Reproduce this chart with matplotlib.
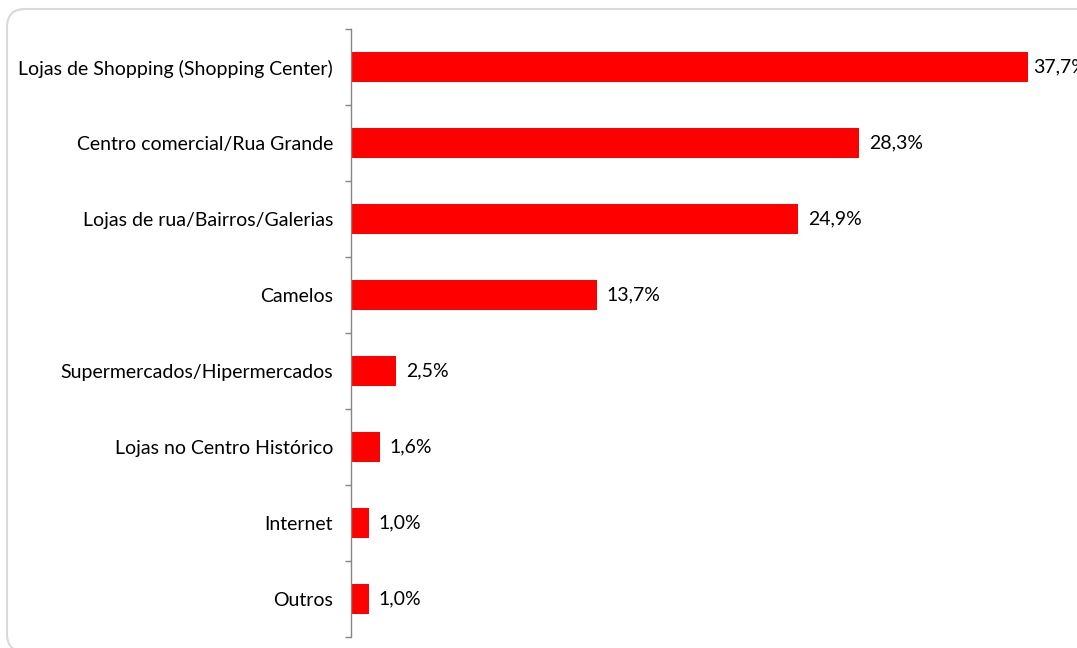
import matplotlib
matplotlib.use("Agg")
import matplotlib.pyplot as plt
from matplotlib.patches import FancyBboxPatch

categories = ["Lojas de Shopping (Shopping Center)", "Centro comercial/Rua Grande",
              "Lojas de rua/Bairros/Galerias", "Camelos", "Supermercados/Hipermercados",
              "Lojas no Centro Histórico", "Internet", "Outros"]
values = [37.7, 28.3, 24.9, 13.7, 2.5, 1.6, 1.0, 1.0]
labels = ["37,7%", "28,3%", "24,9%", "13,7%", "2,5%", "1,6%", "1,0%", "1,0%"]

plt.rcParams["font.family"] = ["Lato", "DejaVu Sans"]

W, H = 1077, 648
fig = plt.figure(figsize=(W / 100, H / 100), dpi=100)
# light rounded frame around the chart (runs off the right and bottom edges)
frame = FancyBboxPatch((7 / W, -4 / H), 1.2, (H - 9 + 4) / H,
                       boxstyle="round,pad=0,rounding_size=0.017",
                       transform=fig.transFigure, facecolor="white",
                       edgecolor="#d9d9d9", linewidth=1.5, mutation_aspect=W / H,
                       zorder=-5)
fig.patches.append(frame)

ax = fig.add_axes([351 / W, (H - 637) / H, (1069 - 351) / W, (637 - 29) / H])
ax.patch.set_alpha(0)

y = list(range(len(categories)))
ax.barh(y, values, height=0.4, color="#ff0000")
ax.set_xlim(0, 40)
ax.set_ylim(len(categories) - 0.5, -0.5)

for yi, v, lab in zip(y, values, labels):
    # the longest bar's label sits tighter to the bar, as in the original
    off = 5 if yi == 0 else 10
    ax.annotate(lab, (v, yi), xytext=(off, 0), textcoords="offset pixels",
                va="center", ha="left", fontsize=14, color="#000000", annotation_clip=False)

ax.set_yticks(y)
ax.set_yticklabels(categories, fontsize=14)
ax.set_yticks([i - 0.5 for i in range(len(categories) + 1)], minor=True)
ax.tick_params(axis="y", which="major", length=0, pad=13)
ax.tick_params(axis="y", which="minor", length=4, color="#868686", width=1)
ax.set_xticks([])
for s in ["top", "right", "bottom"]:
    ax.spines[s].set_visible(False)
ax.spines["left"].set_color("#868686")
ax.spines["left"].set_linewidth(1)

fig.savefig("out.png", dpi=100)
